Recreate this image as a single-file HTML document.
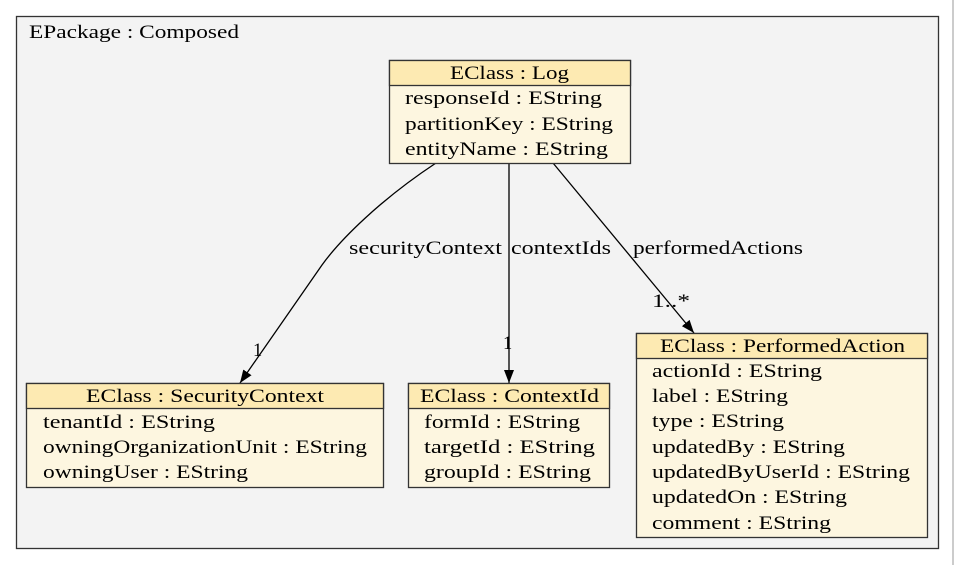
<!DOCTYPE html>
<html><head><meta charset="utf-8"><style>
html,body{margin:0;padding:0;background:#fff;}
svg{display:block;}
text{font-family:"Liberation Serif","DejaVu Serif",serif;font-size:18.5px;fill:#000;}
</style></head><body>
<svg width="955" height="565" viewBox="0 0 955 565" xmlns="http://www.w3.org/2000/svg">
<defs><marker id="ah" markerWidth="14" markerHeight="12" refX="13" refY="5" orient="auto" markerUnits="userSpaceOnUse"><path d="M0,0 L13,5 L0,10 z" fill="#000"/></marker></defs>
<line x1="953" y1="0" x2="953" y2="565" stroke="#bbb" stroke-width="1.5"/>
<rect x="16.5" y="16.5" width="922" height="532" fill="#f3f3f3" stroke="#333" stroke-width="1.3"/>
<text x="29" y="38" textLength="210" lengthAdjust="spacingAndGlyphs">EPackage : Composed</text>

<path d="M436,163 C380,200 340,240 322,265 L240,383" fill="none" stroke="#000" stroke-width="1.3" marker-end="url(#ah)"/>
<line x1="509" y1="163" x2="509" y2="383" stroke="#000" stroke-width="1.3" marker-end="url(#ah)"/>
<line x1="553" y1="163" x2="694" y2="333" stroke="#000" stroke-width="1.3" marker-end="url(#ah)"/>
<text x="349" y="254" textLength="153" lengthAdjust="spacingAndGlyphs">securityContext</text>
<text x="511" y="254" textLength="100" lengthAdjust="spacingAndGlyphs">contextIds</text>
<text x="633" y="254" textLength="170" lengthAdjust="spacingAndGlyphs">performedActions</text>
<text x="253" y="356">1</text>
<text x="503" y="349">1</text>
<text x="652" y="307" textLength="38" lengthAdjust="spacingAndGlyphs">1..*</text>

<rect x="389.5" y="60.5" width="241" height="103" fill="#fdf6e0" stroke="#333" stroke-width="1.3"/>
<rect x="389.5" y="60.5" width="241" height="25" fill="#fdeab2" stroke="#333" stroke-width="1.3"/>
<text x="450" y="79" textLength="119" lengthAdjust="spacingAndGlyphs">EClass : Log</text>
<text x="405" y="104" textLength="197" lengthAdjust="spacingAndGlyphs">responseId : EString</text>
<text x="405" y="130" textLength="208" lengthAdjust="spacingAndGlyphs">partitionKey : EString</text>
<text x="405" y="155" textLength="203" lengthAdjust="spacingAndGlyphs">entityName : EString</text>

<rect x="26.5" y="383.5" width="357" height="104" fill="#fdf6e0" stroke="#333" stroke-width="1.3"/>
<rect x="26.5" y="383.5" width="357" height="25" fill="#fdeab2" stroke="#333" stroke-width="1.3"/>
<text x="86" y="402" textLength="238" lengthAdjust="spacingAndGlyphs">EClass : SecurityContext</text>
<text x="43" y="428" textLength="172" lengthAdjust="spacingAndGlyphs">tenantId : EString</text>
<text x="43" y="453" textLength="324" lengthAdjust="spacingAndGlyphs">owningOrganizationUnit : EString</text>
<text x="43" y="478" textLength="205" lengthAdjust="spacingAndGlyphs">owningUser : EString</text>

<rect x="408.5" y="383.5" width="201" height="104" fill="#fdf6e0" stroke="#333" stroke-width="1.3"/>
<rect x="408.5" y="383.5" width="201" height="25" fill="#fdeab2" stroke="#333" stroke-width="1.3"/>
<text x="420" y="402" textLength="179" lengthAdjust="spacingAndGlyphs">EClass : ContextId</text>
<text x="424" y="428" textLength="156" lengthAdjust="spacingAndGlyphs">formId : EString</text>
<text x="424" y="453" textLength="171" lengthAdjust="spacingAndGlyphs">targetId : EString</text>
<text x="424" y="478" textLength="167" lengthAdjust="spacingAndGlyphs">groupId : EString</text>

<rect x="636.5" y="333.5" width="291" height="204" fill="#fdf6e0" stroke="#333" stroke-width="1.3"/>
<rect x="636.5" y="333.5" width="291" height="25" fill="#fdeab2" stroke="#333" stroke-width="1.3"/>
<text x="660" y="352" textLength="245" lengthAdjust="spacingAndGlyphs">EClass : PerformedAction</text>
<text x="652" y="377" textLength="170" lengthAdjust="spacingAndGlyphs">actionId : EString</text>
<text x="652" y="402" textLength="136" lengthAdjust="spacingAndGlyphs">label : EString</text>
<text x="652" y="427" textLength="132" lengthAdjust="spacingAndGlyphs">type : EString</text>
<text x="652" y="453" textLength="193" lengthAdjust="spacingAndGlyphs">updatedBy : EString</text>
<text x="652" y="478" textLength="258" lengthAdjust="spacingAndGlyphs">updatedByUserId : EString</text>
<text x="652" y="503" textLength="195" lengthAdjust="spacingAndGlyphs">updatedOn : EString</text>
<text x="652" y="529" textLength="179" lengthAdjust="spacingAndGlyphs">comment : EString</text>
</svg>
</body></html>
